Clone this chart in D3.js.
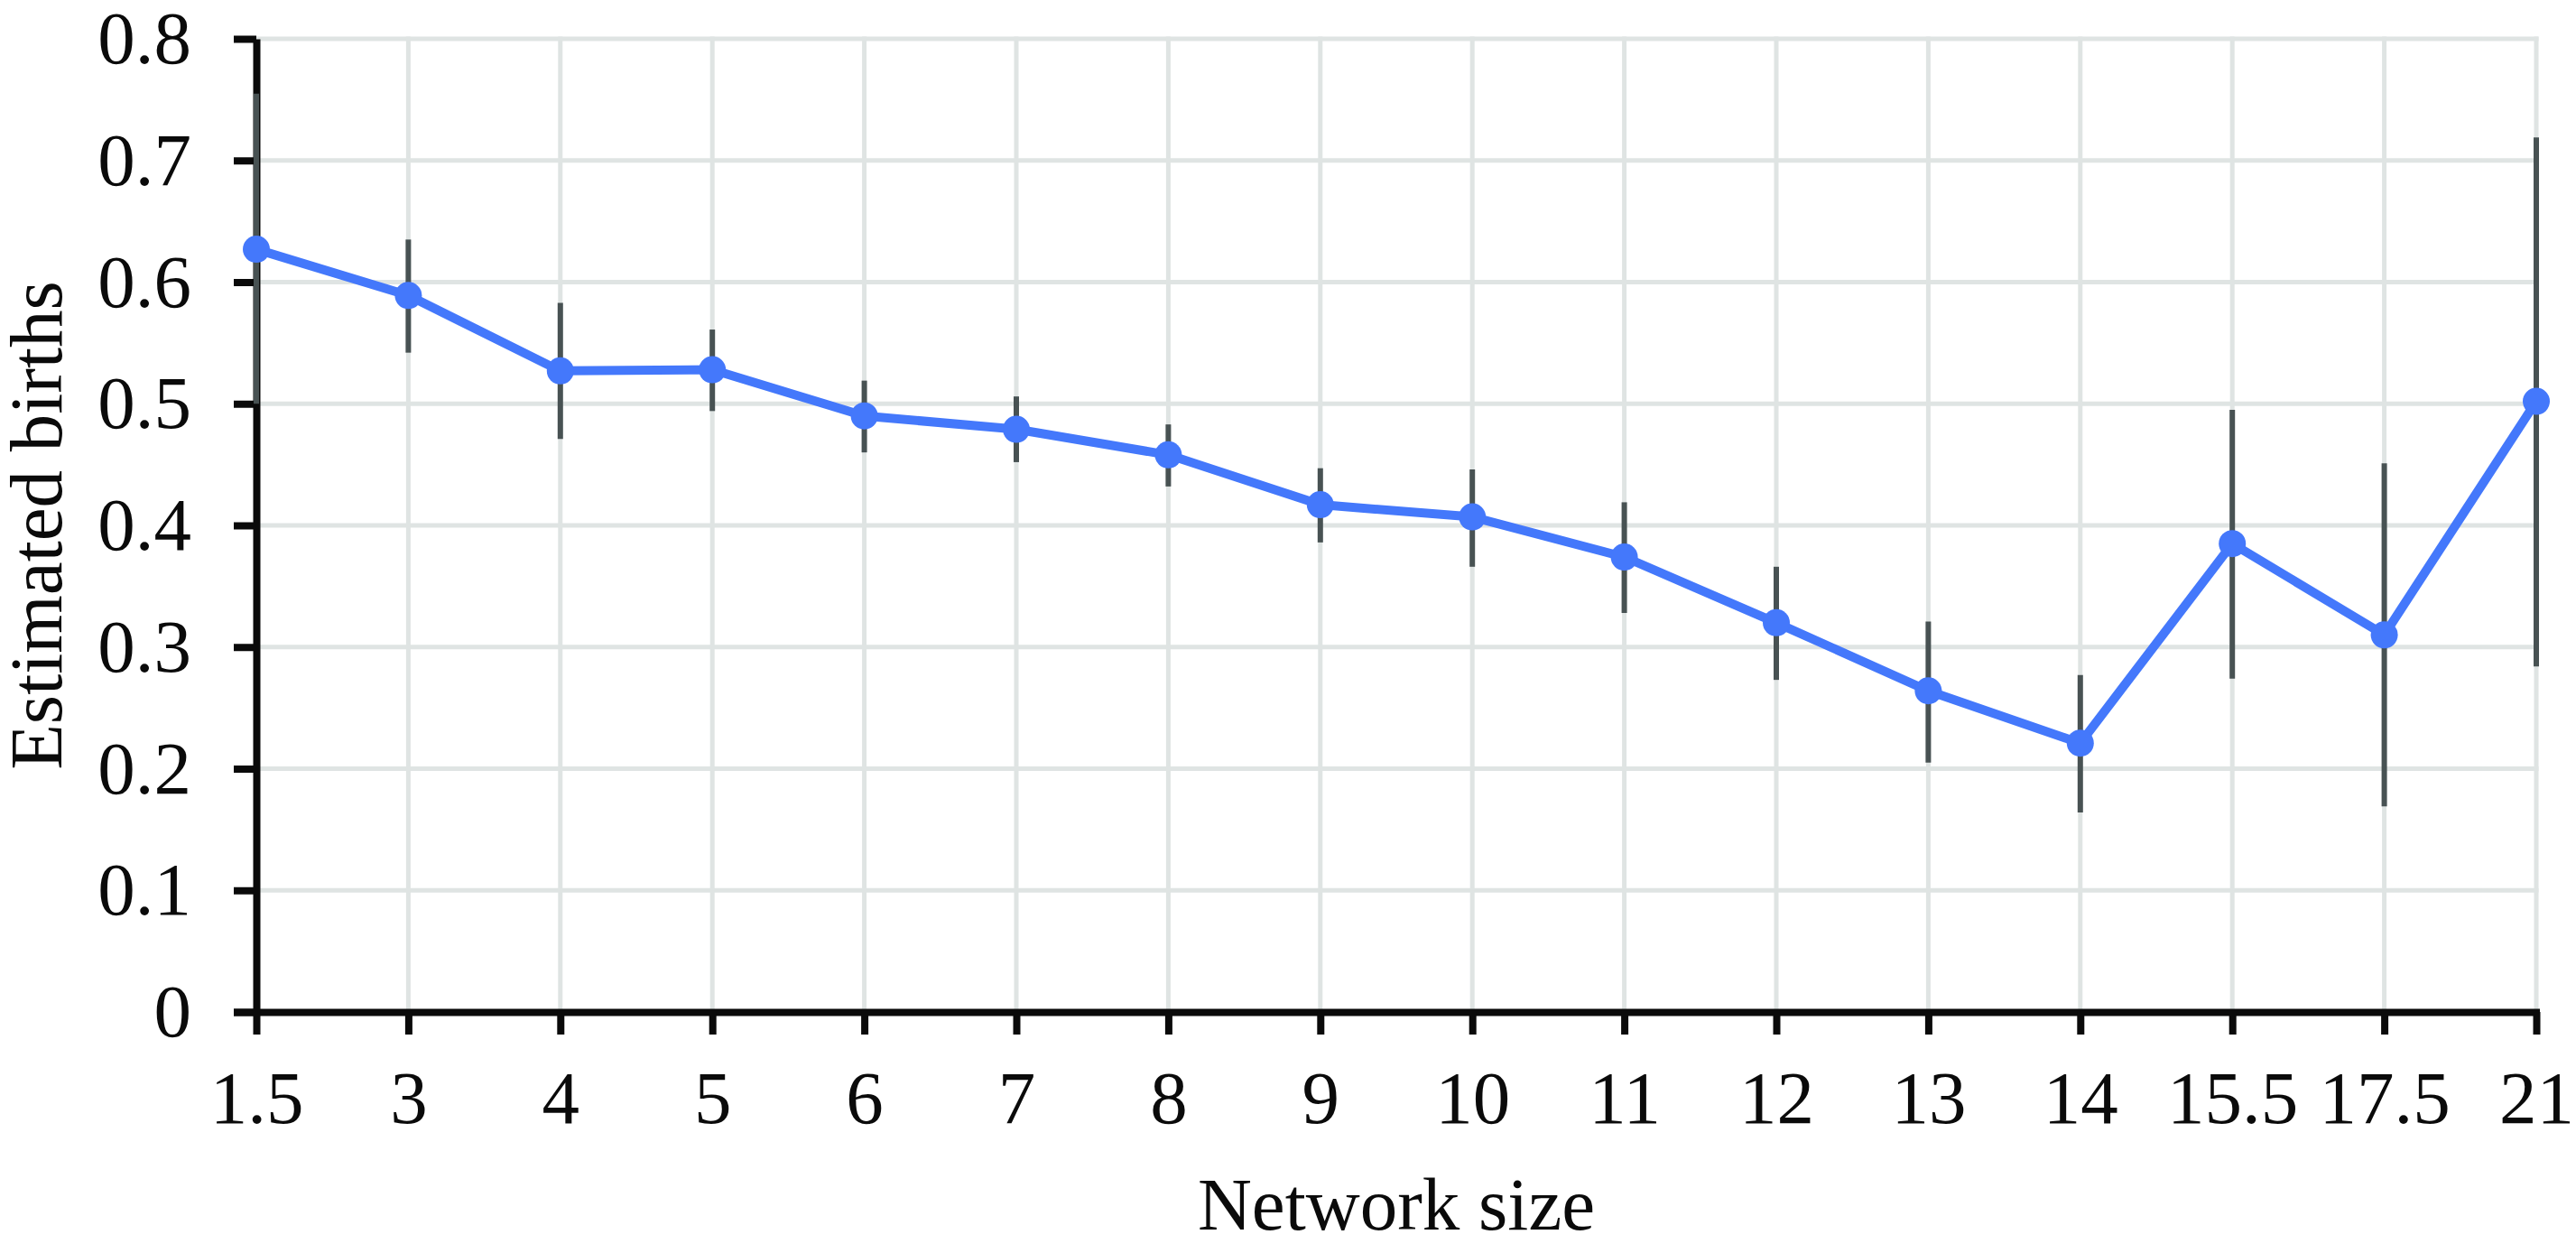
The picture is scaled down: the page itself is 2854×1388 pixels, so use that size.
<!DOCTYPE html>
<html>
<head>
<meta charset="utf-8">
<script src="https://cdn.jsdelivr.net/npm/d3@7"></script>
<style>
  html, body { margin: 0; padding: 0; background: #fff; }
  svg { display: block; }
</style>
</head>
<body>
<svg id="chart" width="2854" height="1388"></svg>
<script>
// ---- data ----
const categories = ["1.5", "3", "4", "5", "6", "7", "8", "9", "10", "11", "12", "13", "14", "15.5", "17.5", "21"];
const estimates  = [0.627, 0.589, 0.527, 0.528, 0.490, 0.479, 0.458, 0.417, 0.407, 0.374, 0.320, 0.264, 0.221, 0.385, 0.310, 0.502];
const lowerCI    = [0.500, 0.542, 0.471, 0.494, 0.460, 0.452, 0.432, 0.386, 0.366, 0.328, 0.273, 0.205, 0.164, 0.274, 0.169, 0.284];
const upperCI    = [0.755, 0.635, 0.583, 0.561, 0.519, 0.506, 0.483, 0.447, 0.446, 0.419, 0.366, 0.321, 0.277, 0.495, 0.451, 0.719];
const yTicks     = [0, 0.1, 0.2, 0.3, 0.4, 0.5, 0.6, 0.7, 0.8];
const xTitle = "Network size";
const yTitle = "Estimated births";

(function () {
const rows = categories.map((c, i) => ({ c, v: estimates[i], lo: lowerCI[i], hi: upperCI[i] }));

// ---- layout ----
const mLeft = 284, mRight = 2810, mTop = 43, mBottom = 1121;
const font = "'Liberation Serif', 'Times New Roman', serif";
const fontSize = 83;

const svg = d3.select("#chart");
const x = d3.scalePoint().domain(categories).range([mLeft, mRight]);
const y = d3.scaleLinear().domain([0, 0.8]).range([mBottom, mTop]);

// gridlines
const grid = svg.append("g").attr("stroke", "#dfe4e3").attr("stroke-width", 5);
grid.selectAll("line.h").data(yTicks.filter(d => d > 0)).join("line")
  .attr("class", "h")
  .attr("x1", mLeft).attr("x2", mRight + 2.5)
  .attr("y1", d => y(d)).attr("y2", d => y(d));
grid.selectAll("line.v").data(categories).join("line")
  .attr("class", "v")
  .attr("x1", d => x(d)).attr("x2", d => x(d))
  .attr("y1", y(0)).attr("y2", y(0.8) - 2.5);

// axes
const xAxis = svg.append("g")
  .attr("transform", `translate(0,${mBottom})`)
  .call(d3.axisBottom(x).tickSize(25).tickSizeOuter(0).tickPadding(39));
const yAxis = svg.append("g")
  .attr("transform", `translate(${mLeft},0)`)
  .call(d3.axisLeft(y).tickValues(yTicks).tickFormat(d3.format("~g")).tickSize(25).tickSizeOuter(0).tickPadding(47));

[xAxis, yAxis].forEach(g => {
  g.select(".domain").attr("stroke", "#0a0a0a").attr("stroke-width", 8);
  g.selectAll(".tick line").attr("stroke", "#0a0a0a").attr("stroke-width", 8);
  g.selectAll(".tick text")
    .attr("fill", "#0a0a0a")
    .style("font-family", font)
    .style("font-size", fontSize + "px");
});
xAxis.select(".domain").attr("d", `M${mLeft - 25},0.5H${mRight + 4}`);

// error bars
svg.append("g").selectAll("line").data(rows).join("line")
  .attr("x1", d => x(d.c)).attr("x2", d => x(d.c))
  .attr("y1", d => y(d.lo)).attr("y2", d => y(d.hi))
  .attr("stroke", "#485253").attr("stroke-width", 6);

// line
svg.append("path").datum(rows)
  .attr("fill", "none")
  .attr("stroke", "#4478fb")
  .attr("stroke-width", 10)
  .attr("stroke-linejoin", "round")
  .attr("d", d3.line().x(d => x(d.c)).y(d => y(d.v)));

// points
svg.append("g").selectAll("circle").data(rows).join("circle")
  .attr("cx", d => x(d.c)).attr("cy", d => y(d.v)).attr("r", 15)
  .attr("fill", "#4478fb");

// titles
svg.append("text")
  .attr("x", (mLeft + mRight) / 2).attr("y", 1362)
  .attr("text-anchor", "middle")
  .attr("fill", "#0a0a0a")
  .style("font-family", font).style("font-size", fontSize + "px")
  .text(xTitle);
svg.append("text")
  .attr("transform", `translate(68,${(mTop + mBottom) / 2}) rotate(-90)`)
  .attr("text-anchor", "middle")
  .attr("fill", "#0a0a0a")
  .style("font-family", font).style("font-size", fontSize + "px")
  .text(yTitle);
})();
</script>
</body>
</html>
